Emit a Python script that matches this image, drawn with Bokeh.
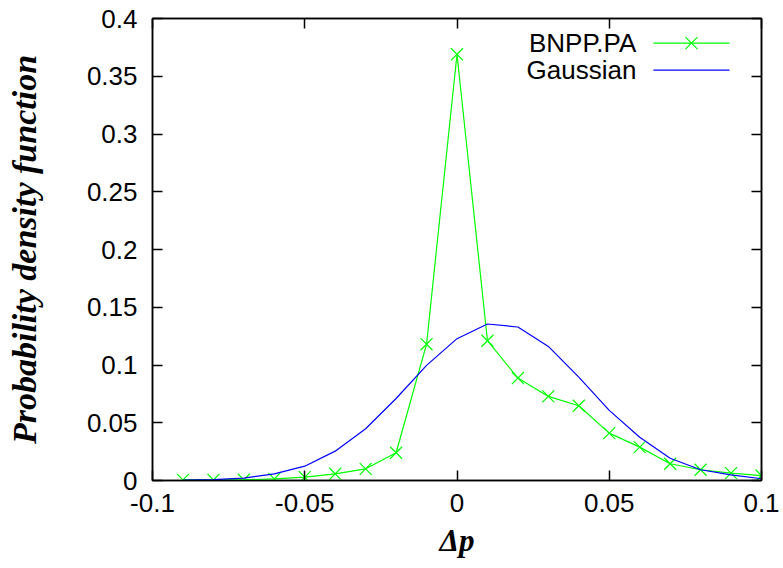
from bokeh.plotting import figure
from bokeh.models import Range1d, LinearAxis, FixedTicker, Label, Arrow, CustomJSTickFormatter
from bokeh.embed import file_html
from bokeh.resources import INLINE

# ---- data ----
dp = [-0.09, -0.08, -0.07, -0.06, -0.05, -0.04, -0.03, -0.02, -0.01, 0.0,
      0.01, 0.02, 0.03, 0.04, 0.05, 0.06, 0.07, 0.08, 0.09, 0.10]
bnpp = [0.0005, 0.0005, 0.0006, 0.0014, 0.0029, 0.0058, 0.0101, 0.0240, 0.1180, 0.3690,
        0.1210, 0.0887, 0.0728, 0.0647, 0.0410, 0.0289, 0.0145, 0.0093, 0.0064, 0.0043]
gauss = [0.0003, 0.0008, 0.0020, 0.0058, 0.0124, 0.0254, 0.0448, 0.0710, 0.0997, 0.1228,
         0.1355, 0.1329, 0.1161, 0.0895, 0.0607, 0.0375, 0.0193, 0.0093, 0.0049, 0.0015]

x_ticks = [-0.1, -0.05, 0.0, 0.05, 0.1]
x_tick_labels = ["-0.1", "-0.05", "0", "0.05", "0.1"]
y_ticks = [0.0, 0.05, 0.1, 0.15, 0.2, 0.25, 0.3, 0.35, 0.4]
y_tick_labels = ["0", "0.05", "0.1", "0.15", "0.2", "0.25", "0.3", "0.35", "0.4"]

series_names = ["BNPP.PA", "Gaussian"]
GREEN = "#00ff00"
BLUE = "#0000ff"

SANS = "Liberation Sans"
SERIF = "Liberation Serif"
TICK_FS = "26px"
MARKER_SIZE = 17

p = figure(width=783, height=568,
           x_range=Range1d(-0.1, 0.1), y_range=Range1d(0.0, 0.4),
           output_backend="svg", toolbar_location=None,
           min_border_left=152, min_border_right=22,
           min_border_top=18, min_border_bottom=88)
p.background_fill_color = "white"
p.border_fill_color = "white"
p.outline_line_color = "black"
p.outline_line_width = 1.5
p.grid.visible = False


def fmt(vals, labels):
    return CustomJSTickFormatter(args=dict(vals=vals, labels=labels), code="""
        for (let i = 0; i < vals.length; i++) {
            if (Math.abs(vals[i] - tick) < 1e-9) return labels[i];
        }
        return '';
    """)


def style_axis(ax):
    ax.axis_line_width = 1.5
    ax.axis_line_color = "black"
    ax.major_tick_line_width = 1.5
    ax.major_tick_line_color = "black"
    ax.major_tick_in = 10
    ax.major_tick_out = 0
    ax.minor_tick_in = 0
    ax.minor_tick_out = 0
    ax.minor_tick_line_color = None


xa = p.below[0]
ya = p.left[0]
xa.ticker = FixedTicker(ticks=x_ticks)
ya.ticker = FixedTicker(ticks=y_ticks)
xa.formatter = fmt(x_ticks, x_tick_labels)
ya.formatter = fmt(y_ticks, y_tick_labels)
for ax in (xa, ya):
    style_axis(ax)
    ax.major_label_text_font = SANS
    ax.major_label_text_font_size = TICK_FS
    ax.major_label_text_color = "black"
xa.major_label_standoff = 13
ya.major_label_standoff = 15

xa.axis_label = "\u0394p"
xa.axis_label_text_font = SERIF
xa.axis_label_text_font_style = "bold italic"
xa.axis_label_text_font_size = "31px"
xa.axis_label_text_color = "black"
xa.axis_label_standoff = 8

ya.axis_label = "Probability density function"
ya.axis_label_text_font = SERIF
ya.axis_label_text_font_style = "bold italic"
ya.axis_label_text_font_size = "34px"
ya.axis_label_text_color = "black"
ya.axis_label_standoff = 41

# mirrored ticks (gnuplot style)
top = LinearAxis(ticker=FixedTicker(ticks=x_ticks), formatter=fmt(x_ticks, [""] * len(x_ticks)))
right = LinearAxis(ticker=FixedTicker(ticks=y_ticks), formatter=fmt(y_ticks, [""] * len(y_ticks)))
for ax in (top, right):
    style_axis(ax)
    ax.major_label_text_font_size = "0px"
    ax.major_label_standoff = 0
p.add_layout(top, "above")
p.add_layout(right, "right")

# data
p.line(dp, bnpp, line_color=GREEN, line_width=1.2)
p.scatter(dp, bnpp, marker="x", size=MARKER_SIZE, line_color=GREEN, line_width=1.2)
p.line(dp, gauss, line_color=BLUE, line_width=1.2)

# legend (gnuplot style: text right-aligned, sample to the right)
leg_text_x = 0.0589
leg_x0, leg_x1 = 0.0645, 0.0895
leg_rows = [0.3787, 0.3553]
colors = [GREEN, BLUE]
for name, c, yy in zip(series_names, colors, leg_rows):
    p.add_layout(Label(x=leg_text_x, y=yy, text=name, text_align="right",
                       text_baseline="middle", text_font=SANS,
                       text_font_size=TICK_FS, text_color="black"))
    p.add_layout(Arrow(x_start=leg_x0, y_start=yy, x_end=leg_x1, y_end=yy,
                       start=None, end=None, line_color=c, line_width=1.2))
p.scatter([(leg_x0 + leg_x1) / 2], [leg_rows[0]], marker="x", size=MARKER_SIZE,
          line_color=GREEN, line_width=1.2)

open("out.html", "w").write(file_html(p, INLINE))
